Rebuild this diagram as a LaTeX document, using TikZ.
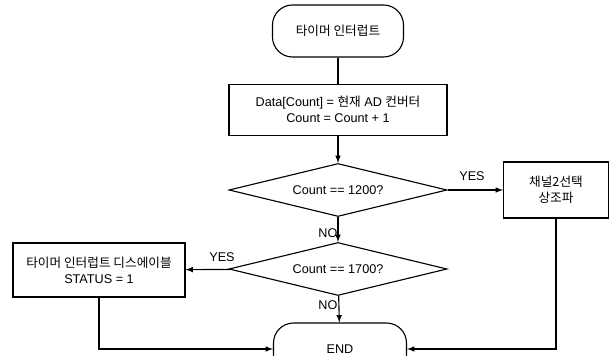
\documentclass[tikz,border=0pt]{standalone}
\usepackage{fontspec}
\setmainfont{Liberation Sans}
\newfontfamily\kr{Noto Sans CJK KR}
\usetikzlibrary{shapes.geometric}
\begin{document}
\begin{tikzpicture}[line width=0.8pt]
            \tikzstyle{every node}=[font=\fontsize{9}{11.3}\selectfont,align=center,inner sep=2pt]
            \tikzstyle{term}=[draw,rectangle,rounded corners=0.5cm,minimum height=1.3cm]
            \tikzstyle{proc}=[draw,rectangle]
            \tikzstyle{cond}=[draw,diamond,inner sep=0pt,shape aspect=4.11,minimum width=5.45cm,minimum height=1.325cm]
            \useasboundingbox (0,0) rectangle (15.275,8.9);
            \draw (8.45,8.125) node [term,minimum width=3.275cm] (s) {\kr 타이머 인터럽트};
            \draw (8.45,6.16) node [proc,minimum width=5.45cm,minimum height=1.275cm] (p1) {Data[Count] = {\kr 현재} AD {\kr 컨버터}\\Count = Count + 1};
            \draw (8.45,4.15) node [cond] (c1) {Count == 1200?};
            \draw (13.9,4.15) node [proc,minimum width=2.625cm,minimum height=1.4cm] (p2) {\kr 채널2선택\\\kr 상조파};
            \draw (8.45,2.175) node [cond] (c2) {Count == 1700?};
            \draw (2.475,2.15) node [proc,minimum width=4.3cm,minimum height=1.35cm] (p3) {{\kr 타이머 인터럽트 디스에이블}\\STATUS = 1};
            \draw (8.5,0.175) node [term,minimum width=3.325cm] (e) {END};
            \draw (s) -- (p1);
            \draw[-latex] (p1) -- (c1);
            \draw[-latex] (c1) -- (p2);
            \draw[-latex] (c1) -- (c2);
            \draw[-latex] (c2) -- (p3);
            \draw[-latex] (c2) -- (e);
            \draw[-latex] (p3.south) |- (e.west);
            \draw[-latex] (p2.south) |- (e.east);
            \draw (11.8,4.5) node {YES};
            \draw (8.45,3.075) node [anchor=east,inner sep=0pt] {NO};
            \draw (5.55,2.475) node {YES};
            \draw (8.45,1.275) node [anchor=east,inner sep=0pt] {NO};
        \end{tikzpicture}
\end{document}
